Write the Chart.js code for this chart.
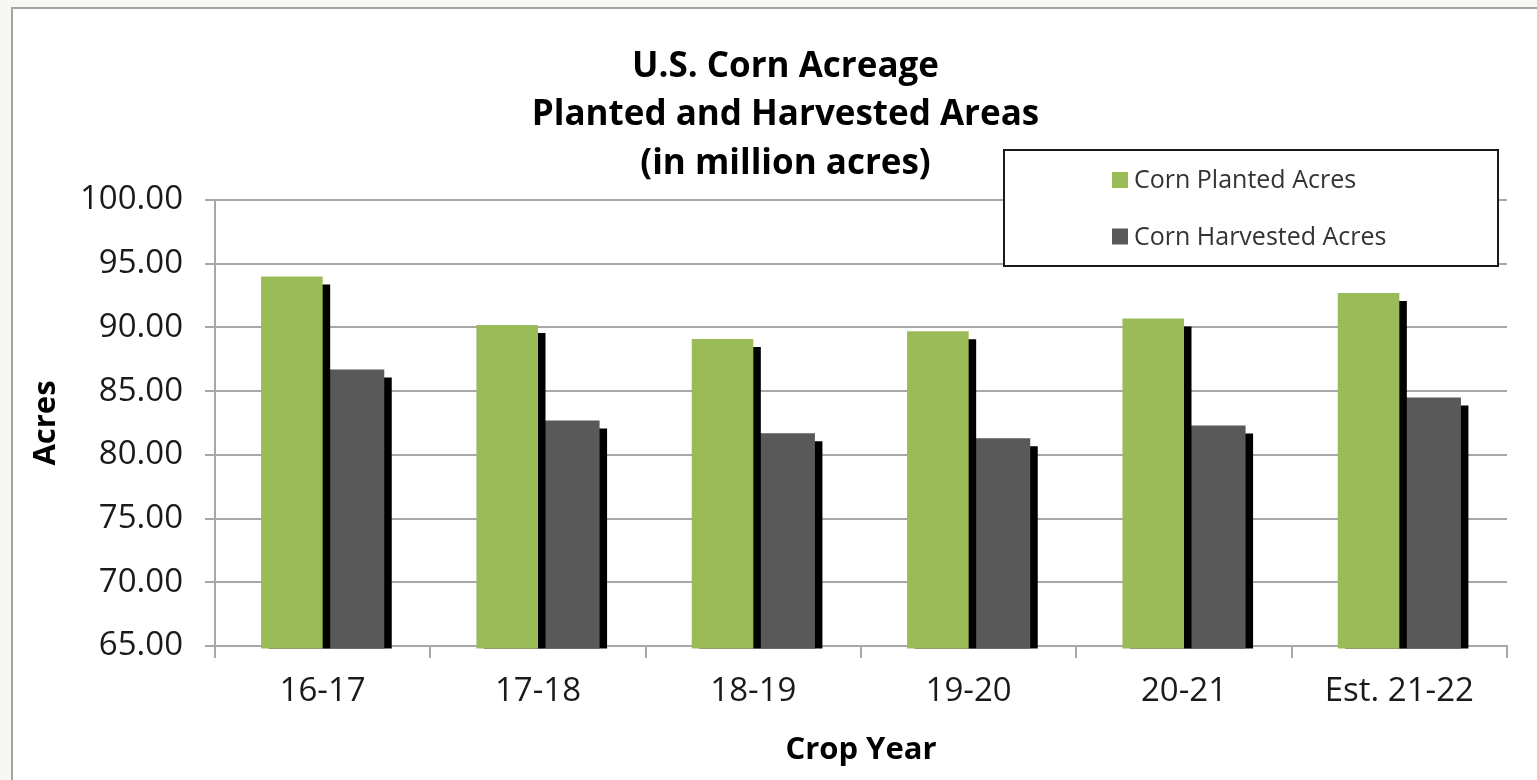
<!DOCTYPE html>
<html><head><meta charset="utf-8">
<script src="https://cdn.jsdelivr.net/npm/chart.js@4.4.1/dist/chart.umd.min.js"></script>
<style>
html,body{margin:0;padding:0;background:#f6f9f3;width:1537px;height:780px;overflow:hidden}
#frame{position:absolute;left:11px;top:7px;right:0;bottom:0;background:#fff;border-left:2px solid #a3a3a3;border-top:2px solid #a3a3a3}
#c{position:absolute;left:0;top:0}
</style></head><body>
<div id="frame"></div>
<canvas id="c" width="1537" height="780"></canvas>
<script>
// ---- data ----
const categories = ['16-17', '17-18', '18-19', '19-20', '20-21', 'Est. 21-22'];
const plantedAcres = [94.0, 90.2, 89.1, 89.7, 90.7, 92.7];
const harvestedAcres = [86.7, 82.7, 81.7, 81.3, 82.3, 84.5];
const seriesNames = ['Corn Planted Acres', 'Corn Harvested Acres'];
const yMin = 65, yMax = 100, yStep = 5;
const titleLines = ['U.S. Corn Acreage', 'Planted and Harvested Areas', '(in million acres)'];
const xTitle = 'Crop Year';
const yTitle = 'Acres';

const F = "'Open Sans', 'Noto Sans', sans-serif";
const GRID = '#a8a8a8';

const barShadow = {
  id: 'barShadow',
  beforeDatasetDraw(chart) {
    const {ctx, chartArea: a} = chart;
    ctx.save();
    ctx.beginPath();
    ctx.rect(a.left, a.top - 20, a.right - a.left + 14, a.bottom - a.top + 22.5);
    ctx.clip();
    ctx.shadowColor = '#000';
    ctx.shadowOffsetX = 7.5;
    ctx.shadowOffsetY = 8;
    ctx.shadowBlur = 0;
  },
  afterDatasetDraw(chart) { chart.ctx.restore(); }
};

const boxLegend = {
  id: 'boxLegend',
  afterDraw(chart) {
    const ctx = chart.ctx;
    const bx = 1004, by = 150, bw = 494, bh = 116;
    ctx.save();
    ctx.fillStyle = '#fff';
    ctx.fillRect(bx, by, bw, bh);
    ctx.strokeStyle = '#1a1a1a';
    ctx.lineWidth = 2;
    ctx.strokeRect(bx, by, bw, bh);
    ctx.font = "25px " + F;
    ctx.textBaseline = 'middle';
    ctx.textAlign = 'left';
    chart.data.datasets.forEach((ds, i) => {
      const cy = 180 + i * 56.5;
      ctx.fillStyle = ds.backgroundColor;
      ctx.fillRect(1112, cy - 8, 16, 16);
      ctx.fillStyle = '#333';
      ctx.fillText(ds.label, 1134, cy + 1);
    });
    ctx.restore();
  }
};

new Chart(document.getElementById('c'), {
  type: 'bar',
  data: {
    labels: categories,
    datasets: [
      {label: seriesNames[0], data: plantedAcres, backgroundColor: '#9bbb59', borderWidth: 0, yAxisID: 'y', clip: false},
      {label: seriesNames[1], data: harvestedAcres, backgroundColor: '#595959', borderWidth: 0, yAxisID: 'y', clip: false}
    ]
  },
  options: {
    responsive: false,
    devicePixelRatio: 1,
    animation: false,
    events: [],
    categoryPercentage: 0.572,
    barPercentage: 1.0,
    layout: {padding: {left: 34, right: 0, top: 0, bottom: 0}},
    plugins: {
      legend: {display: false},
      tooltip: {enabled: false},
      title: {
        display: true,
        text: titleLines,
        color: '#000',
        font: {family: F, size: 35, weight: 'bold', lineHeight: 1.386},
        padding: {top: 42.75, bottom: 11.75}
      }
    },
    scales: {
      x: {
        grid: {display: true, drawOnChartArea: false, drawTicks: true, tickLength: 12, color: GRID, lineWidth: 2, offset: true},
        border: {display: true, color: GRID, width: 2},
        ticks: {font: {family: F, size: 33}, color: '#1a1a1a', padding: 14, maxRotation: 0},
        title: {display: true, text: xTitle, color: '#000', font: {family: F, size: 31, weight: 'bold', lineHeight: 1}, padding: {top: 0, bottom: 14}},
        afterFit(s) { s.height = 134; }
      },
      y: {
        min: yMin, max: yMax,
        ticks: {stepSize: yStep, callback: v => Number(v).toFixed(2), font: {family: F, size: 33}, color: '#1a1a1a', padding: 22},
        grid: {color: GRID, lineWidth: 2, tickLength: 10},
        border: {color: GRID, width: 2},
        title: {display: true, text: yTitle, color: '#000', font: {family: F, size: 31, weight: 'bold', lineHeight: 1}, padding: {top: -3, bottom: 0}},
        afterFit(s) { s.width = 181; }
      },
      yR: {
        position: 'right',
        display: true,
        grid: {display: false},
        ticks: {display: false},
        border: {display: false},
        afterFit(s) { s.width = 30; }
      }
    }
  },
  plugins: [barShadow, boxLegend]
});
</script>
</body></html>
